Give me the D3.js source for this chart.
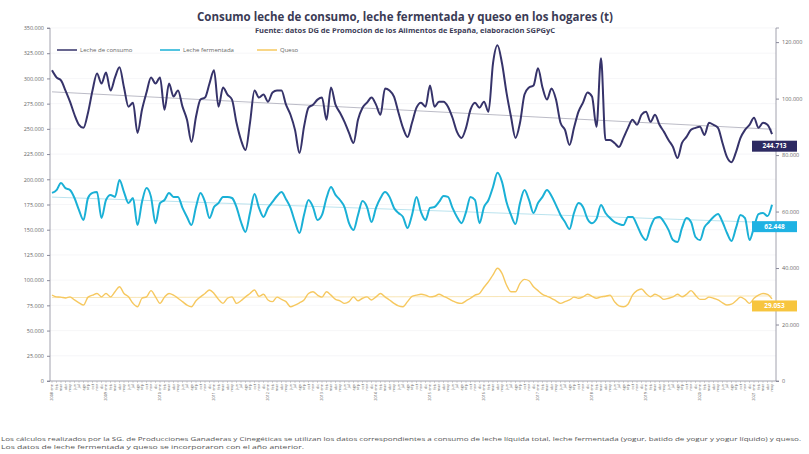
<!DOCTYPE html>
<html>
<head>
<meta charset="utf-8">
<script src="https://cdnjs.cloudflare.com/ajax/libs/d3/7.8.5/d3.min.js"></script>
<style>
  body { margin: 0; background: #fff; }
  svg { display: block; font-family: "Open Sans", "Noto Sans", sans-serif; }
</style>
</head>
<body>
<svg width="809" height="454"></svg>
<script>
// consumo en hogares, toneladas (ene 2008 - may 2021)
var years = [2008, 2009, 2010, 2011, 2012, 2013, 2014, 2015, 2016, 2017, 2018, 2019, 2020, 2021];
var monthNames = ["ene", "feb", "mar", "abr", "may", "jun", "jul", "ago", "sep", "oct", "nov", "dic"];

var lecheConsumo = [
  308000, 301000, 298000, 288000, 277000, 264000, 254000, 251000, 266000, 288000, 305000, 295000,
  306000, 288000, 301000, 311000, 291000, 272000, 276000, 246000, 269000, 286000, 301000, 295000,
  301000, 269000, 295000, 282000, 288000, 272000, 259000, 237000, 262000, 279000, 281000, 295000,
  308000, 272000, 291000, 284000, 279000, 256000, 239000, 229000, 256000, 288000, 281000, 284000,
  277000, 286000, 288000, 288000, 274000, 264000, 249000, 226000, 252000, 271000, 274000, 279000,
  281000, 259000, 291000, 274000, 266000, 257000, 246000, 236000, 259000, 271000, 276000, 281000,
  274000, 264000, 290000, 288000, 282000, 266000, 251000, 242000, 256000, 271000, 276000, 272000,
  293000, 272000, 277000, 277000, 272000, 261000, 247000, 241000, 251000, 269000, 276000, 271000,
  277000, 267000, 315000, 333000, 315000, 286000, 262000, 241000, 256000, 284000, 291000, 293000,
  310000, 291000, 279000, 290000, 279000, 256000, 249000, 234000, 251000, 267000, 276000, 286000,
  282000, 252000, 320000, 239000, 239000, 236000, 232000, 241000, 251000, 259000, 254000, 264000,
  267000, 257000, 264000, 254000, 247000, 239000, 232000, 221000, 236000, 242000, 249000, 251000,
  252000, 244000, 256000, 254000, 251000, 236000, 222000, 217000, 227000, 241000, 249000, 254000,
  261000, 251000, 256000, 254000, 244713
];

var lecheFermentada = [
  66600, 67600, 70100, 68300, 67600, 64800, 60500, 57000, 64800, 66600, 66900, 57700,
  64100, 65900, 65200, 71200, 66900, 63000, 64800, 55200, 63400, 68300, 65200, 55900,
  63000, 64100, 66600, 65200, 65200, 61300, 58100, 55200, 61600, 66600, 63400, 57700,
  61600, 63000, 65200, 65200, 64800, 61600, 56300, 52800, 59500, 66200, 61300, 58100,
  61300, 63400, 65500, 66900, 64400, 61300, 56300, 52400, 58800, 64100, 61600, 57000,
  58800, 64800, 68700, 65900, 64100, 61600, 55900, 53500, 58800, 63700, 61600, 56300,
  61300, 64800, 66900, 65200, 61300, 59500, 58100, 54200, 58800, 65200, 59800, 57000,
  61300, 61600, 63400, 65500, 65200, 61300, 58100, 55900, 59800, 65200, 64100, 55900,
  61600, 64100, 68700, 73700, 70500, 63400, 58800, 55600, 63000, 67600, 64100, 59500,
  63000, 65200, 67600, 65500, 62300, 58800, 56300, 53800, 59500, 63000, 61600, 57400,
  55900, 57400, 62300, 59500, 57700, 56300, 55600, 55200, 58100, 58100, 55200, 51700,
  49900, 54500, 57700, 58100, 56300, 53500, 49900, 49200, 54200, 57700, 56300, 51000,
  49900, 54500, 56300, 58100, 59100, 56300, 52400, 49600, 54200, 58800, 57700, 49900,
  54500, 59100, 59500, 58400, 62448
];

var queso = [
  30400, 29800, 29700, 29400, 29800, 28700, 27700, 26900, 29700, 30400, 31000, 29800,
  31000, 29800, 31600, 33400, 31000, 29800, 27500, 26300, 29300, 29800, 32000, 29800,
  27500, 29700, 31000, 30400, 29300, 28100, 26900, 26300, 28400, 29800, 31000, 32200,
  31000, 28900, 27500, 29300, 29800, 27500, 28400, 29800, 31000, 32200, 30000, 30700,
  28700, 28100, 29700, 28900, 28100, 26300, 26900, 27700, 28700, 31000, 31600, 30400,
  29700, 31600, 30400, 28900, 28400, 27500, 28100, 29800, 28400, 29300, 29800, 28700,
  29800, 31000, 29800, 28700, 27500, 26600, 26300, 28100, 30000, 30400, 30700, 30400,
  29800, 30000, 30700, 30000, 29300, 28400, 27700, 27500, 28400, 29300, 30400, 31000,
  33200, 35200, 37600, 39900, 38100, 34000, 31600, 31600, 34600, 36000, 35500, 33400,
  32000, 30700, 30000, 29300, 28400, 27500, 28100, 28700, 29700, 29300, 29800, 30700,
  30000, 29300, 29800, 30000, 30400, 28100, 26600, 26300, 27200, 30400, 32000, 32600,
  31000, 29800, 30700, 30000, 28900, 29300, 29800, 30700, 29800, 30700, 32000, 30400,
  28900, 28900, 29700, 29300, 28700, 27700, 26900, 27200, 28400, 29700, 28900, 27500,
  29300, 30400, 31000, 30700, 29053
];

var leftTicks = [0, 25000, 50000, 75000, 100000, 125000, 150000, 175000, 200000, 225000, 250000, 275000, 300000, 325000, 350000];
var rightTicks = [0, 20000, 40000, 60000, 80000, 100000, 120000];

var svg = d3.select("svg");
var pLeft = 50, pRight = 776, pTop = 28, pBottom = 381;

var fmt = d3.formatLocale({ decimal: ",", thousands: ".", grouping: [3], currency: ["", "€"] }).format(",d");

var months = [];
lecheConsumo.forEach(function (d, i) {
  months.push({ year: years[Math.floor(i / 12)], m: i % 12, key: i });
});

var x = d3.scalePoint().domain(months.map((d) => d.key)).range([52, 772]);
var yL = d3.scaleLinear().domain([0, 350000]).range([pBottom, pTop]);
var yR = d3.scaleLinear().domain([0, 125000]).range([pBottom, pTop]);

// titles
svg.append("text").attr("x", 405).attr("y", 21).attr("text-anchor", "middle")
  .attr("font-size", 11.5).attr("font-weight", "bold").attr("fill", "#3b3b55")
  .text("Consumo leche de consumo, leche fermentada y queso en los hogares (t)");
svg.append("text").attr("x", 405).attr("y", 33).attr("text-anchor", "middle")
  .attr("font-size", 7.5).attr("font-weight", "bold").attr("fill", "#3b3b55")
  .text("Fuente: datos DG de Promoción de los Alimentos de España, elaboración SGPGyC");

// grid
svg.append("g").selectAll("line").data(leftTicks.slice(1)).enter().append("line")
  .attr("x1", pLeft).attr("x2", pRight)
  .attr("y1", (d) => yL(d)).attr("y2", (d) => yL(d))
  .attr("stroke", "#f0f0f3").attr("stroke-width", 0.6);

// axes
var gl = svg.append("g").attr("transform", "translate(" + pLeft + ",0)")
  .call(d3.axisLeft(yL).tickValues(leftTicks).tickFormat(fmt).tickSize(3));
var gr = svg.append("g").attr("transform", "translate(" + pRight + ",0)")
  .call(d3.axisRight(yR).tickValues(rightTicks).tickFormat(fmt).tickSize(3));
[gl, gr].forEach(function (g) {
  g.selectAll("path").attr("stroke", "#8a8a9a").attr("stroke-width", 0.8);
  g.selectAll("line").attr("stroke", "#8a8a9a");
  g.selectAll("text").attr("font-size", 5.5).attr("fill", "#666").attr("font-family", "Open Sans, sans-serif");
});
gl.select(".domain").attr("d", "M-3," + pTop + "H0V" + pBottom + "H-3");
gr.select(".domain").attr("d", "M3," + pTop + "H0V" + pBottom + "H3");

var gx = svg.append("g").attr("transform", "translate(0," + pBottom + ")");
gx.append("line").attr("x1", pLeft).attr("x2", pRight).attr("stroke", "#8a8a9a").attr("stroke-width", 0.8);
gx.selectAll("line.tk").data(months).enter().append("line").attr("class", "tk")
  .attr("x1", (d) => x(d.key)).attr("x2", (d) => x(d.key)).attr("y1", 0).attr("y2", 2)
  .attr("stroke", "#999").attr("stroke-width", 0.4);
gx.selectAll("text.mo").data(months).enter().append("text").attr("class", "mo")
  .attr("transform", (d) => "translate(" + (x(d.key) + 1.4) + ",3) rotate(-90)")
  .attr("text-anchor", "end").attr("font-size", 3.8).attr("fill", "#666")
  .text((d) => monthNames[d.m]);
gx.selectAll("text.yr").data(months.filter((d) => d.m === 0)).enter().append("text").attr("class", "yr")
  .attr("transform", (d) => "translate(" + (x(d.key) + 1.4) + ",11) rotate(-90)")
  .attr("text-anchor", "end").attr("font-size", 3.8).attr("fill", "#555")
  .text((d) => d.year);

// series
var series = [
  { name: "Leche de consumo", values: lecheConsumo, y: yL, color: "#36336a", trend: "#a9a9b8", width: 2, box: "#2d2a62", dy: 12 },
  { name: "Leche fermentada", values: lecheFermentada, y: yR, color: "#1ab0d6", trend: "#a8dcea", width: 2, box: "#1fb2e3", dy: 22 },
  { name: "Queso", values: queso, y: yR, color: "#f6c85f", trend: "#f6dea2", width: 1.4, box: "#f7c53e", dy: 7 }
];

function trendLine(vals) {
  var n = vals.length, sx = 0, sy = 0, sxy = 0, sxx = 0;
  vals.forEach(function (v, i) { sx += i; sy += v; sxy += i * v; sxx += i * i; });
  var b = (n * sxy - sx * sy) / (n * sxx - sx * sx);
  var a = (sy - b * sx) / n;
  return [[0, a], [n - 1, a + b * (n - 1)]];
}

series.forEach(function (s) {
  var t = trendLine(s.values);
  svg.append("line")
    .attr("x1", x(t[0][0])).attr("y1", s.y(t[0][1]))
    .attr("x2", x(t[1][0])).attr("y2", s.y(t[1][1]))
    .attr("stroke", s.trend).attr("stroke-width", 0.8);
});

series.forEach(function (s) {
  var line = d3.line().x((d, i) => x(i)).y((d) => s.y(d)).curve(d3.curveMonotoneX);
  svg.append("path").datum(s.values).attr("d", line)
    .attr("fill", "none").attr("stroke", s.color).attr("stroke-width", s.width)
    .attr("stroke-linejoin", "round");
});

// end labels
series.forEach(function (s) {
  var last = s.values.length - 1;
  var cy = s.y(s.values[last]) + s.dy;
  var g = svg.append("g").attr("transform", "translate(752," + cy + ")");
  g.append("rect").attr("x", 0).attr("y", -5.5).attr("width", 45).attr("height", 11).attr("fill", s.box);
  g.append("text").attr("x", 22.5).attr("y", 2.2).attr("text-anchor", "middle")
    .attr("font-size", 6.5).attr("fill", "#fff").attr("font-weight", "bold")
    .text(fmt(s.values[last]));
});

// legend
var lg = svg.append("g").attr("transform", "translate(57,50)");
var legX = [0, 103, 200];
series.forEach(function (s, i) {
  lg.append("line").attr("x1", legX[i]).attr("x2", legX[i] + 20).attr("y1", 0).attr("y2", 0)
    .attr("stroke", s.color).attr("stroke-width", 1.5);
  lg.append("text").attr("x", legX[i] + 23).attr("y", 2).attr("font-size", 6).attr("fill", "#666")
    .text(s.name);
});

// footnote
svg.append("text").attr("x", 1).attr("y", 441).attr("font-size", 5.2).attr("fill", "#555")
  .attr("textLength", 800).attr("lengthAdjust", "spacingAndGlyphs")
  .text("Los cálculos realizados por la SG. de Producciones Ganaderas y Cinegéticas se utilizan los datos correspondientes a consumo de leche líquida total, leche fermentada (yogur, batido de yogur y yogur líquido) y queso.");
svg.append("text").attr("x", 1).attr("y", 449).attr("font-size", 5.2).attr("fill", "#555")
  .attr("textLength", 303).attr("lengthAdjust", "spacingAndGlyphs")
  .text("Los datos de leche fermentada y queso se incorporaron con el año anterior.");
</script>
</body>
</html>
